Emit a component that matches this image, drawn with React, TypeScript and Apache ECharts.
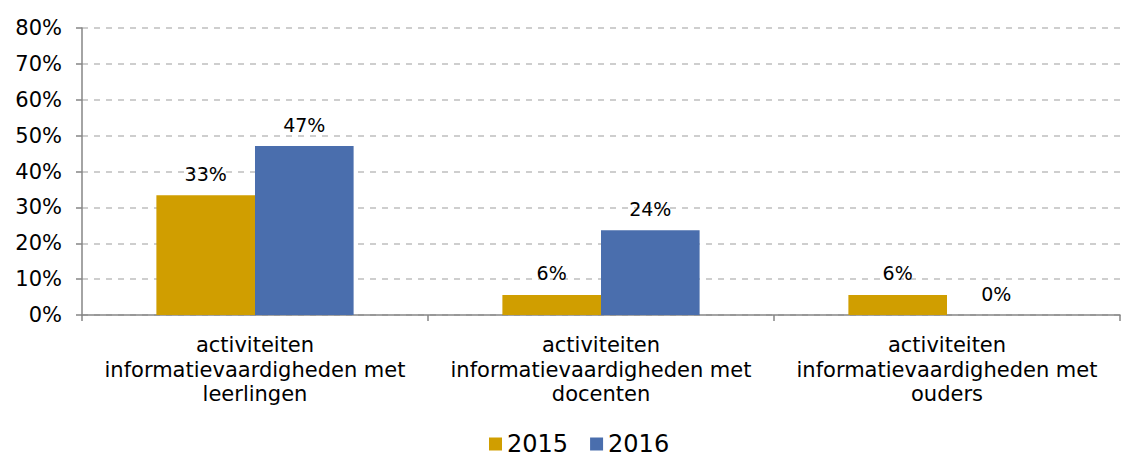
import React, { useEffect, useRef } from "react";
import * as echarts from "echarts";

const categories = [
  "activiteiten\ninformatievaardigheden met\nleerlingen",
  "activiteiten\ninformatievaardigheden met\ndocenten",
  "activiteiten\ninformatievaardigheden met\nouders",
];
const values2015 = [33.4, 5.6, 5.6];
const values2016 = [47.1, 23.6, 0];
const seriesNames = ["2015", "2016"];
const colors = ["#D09E00", "#4A6EAD"];

const FONT = "DejaVu Sans";

export default function App() {
  const ref = useRef<HTMLDivElement>(null);
  useEffect(() => {
    document.body.style.margin = "0";
    document.body.style.overflow = "hidden";
    if (!ref.current) return;
    const chart = echarts.init(ref.current, null, { renderer: "svg" });
    const labelCfg = {
      show: true,
      position: "top",
      distance: 12,
      color: "#000",
      fontFamily: FONT,
      fontSize: 19,
      formatter: (p: any) => Math.round(p.value) + "%",
    };
    chart.setOption({
      animation: false,
      color: colors,
      textStyle: { fontFamily: FONT },
      grid: { left: 82, right: 2, top: 28, bottom: 142, containLabel: false },
      legend: {
        top: 432,
        left: 489,
        padding: 0,
        itemWidth: 13,
        itemHeight: 13,
        itemGap: 22,
        icon: "rect",
        textStyle: { fontFamily: FONT, fontSize: 24, color: "#000", padding: [0, 0, 0, 0] },
        data: seriesNames,
      },
      xAxis: {
        type: "category",
        data: categories,
        boundaryGap: true,
        axisLine: { lineStyle: { color: "#868686", width: 1.5 } },
        axisTick: { show: true, length: 6, lineStyle: { color: "#868686", width: 1.5 } },
        axisLabel: {
          interval: 0,
          margin: 18,
          color: "#000",
          fontFamily: FONT,
          fontSize: 21,
          lineHeight: 24.5,
        },
      },
      yAxis: {
        type: "value",
        min: 0,
        max: 80,
        interval: 10,
        axisLine: { show: true, lineStyle: { color: "#868686", width: 1.5 } },
        axisTick: { show: true, length: 6, lineStyle: { color: "#868686", width: 1.5 } },
        axisLabel: {
          margin: 20,
          color: "#000",
          fontFamily: FONT,
          fontSize: 21,
          formatter: (v: number) => v + "%",
        },
        splitLine: { show: true, lineStyle: { color: "#BFBFBF", type: [6, 6], width: 1.5 } },
      },
      series: [
        {
          name: seriesNames[0],
          type: "bar",
          data: values2015,
          barGap: "0%",
          barCategoryGap: "43%",
          label: labelCfg,
        },
        {
          name: seriesNames[1],
          type: "bar",
          data: values2016,
          barGap: "0%",
          barCategoryGap: "43%",
          label: labelCfg,
        },
      ],
    });
    return () => chart.dispose();
  }, []);
  return <div ref={ref} style={{ width: 1122, height: 457 }} />;
}
